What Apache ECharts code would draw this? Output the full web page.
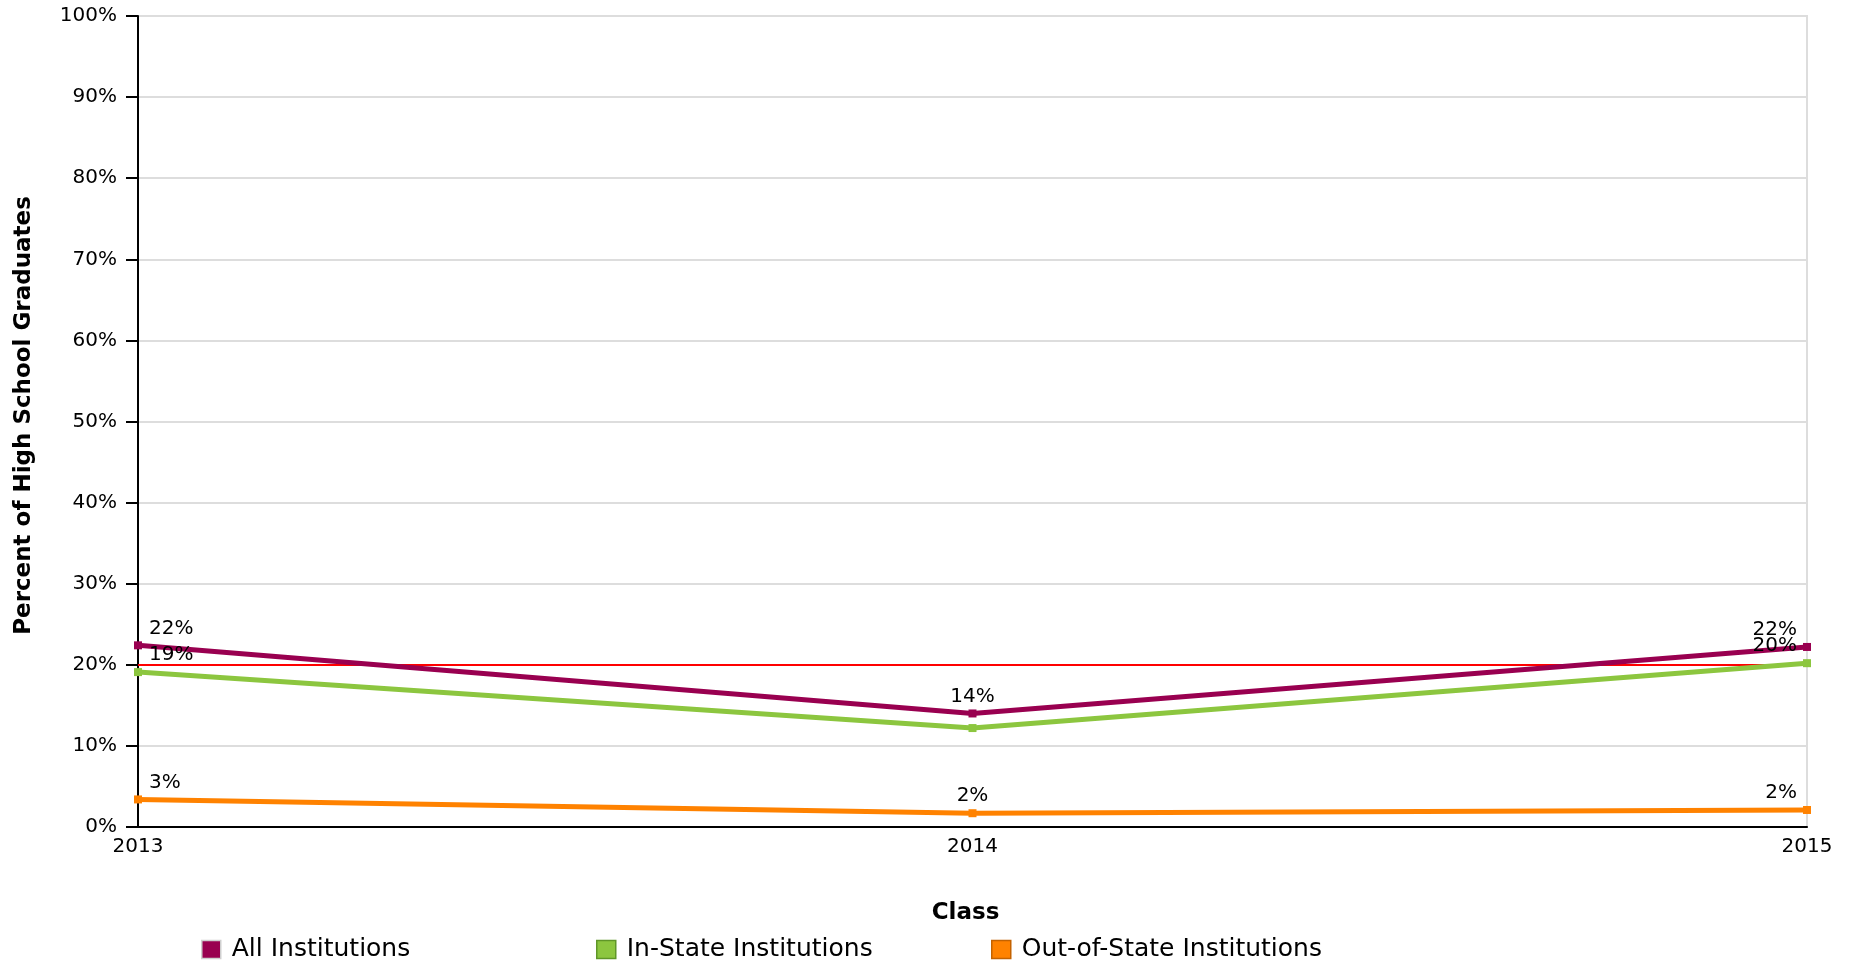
<!DOCTYPE html>
<html>
<head>
<meta charset="utf-8">
<script src="https://cdn.jsdelivr.net/npm/echarts@6/dist/echarts.min.js"></script>
<style>
html,body{margin:0;padding:0;background:#fff;}
#chart{width:1858px;height:966px;}
</style>
</head>
<body>
<div id="chart"></div>
<script>
const categories = ['2013', '2014', '2015'];
const allInstitutions = [22.4, 14.0, 22.2];
const inStateInstitutions = [19.1, 12.2, 20.2];
const outOfStateInstitutions = [3.4, 1.7, 2.1];
const targetValue = 20;
const yMin = 0, yMax = 100, yInterval = 10;
const seriesNames = ['All Institutions', 'In-State Institutions', 'Out-of-State Institutions'];
const hiddenLabelIndex = { 'In-State Institutions': [1] };

const FONT = 'DejaVu Sans';
const colors = ['#990050', '#8cc63f', '#ff8200'];
const legendBorders = ['#cfcfcf', '#5f9628', '#c46200'];
const legendLefts = [201, 596, 991];

function buildData(name, values) {
  const last = values.length - 1;
  const hidden = hiddenLabelIndex[name] || [];
  return values.map((v, i) => ({
    value: v,
    label: {
      show: hidden.indexOf(i) < 0,
      align: i === 0 ? 'left' : (i === last ? 'right' : 'center'),
      offset: [i === 0 ? 11 : (i === last ? -10 : 0), 0]
    }
  }));
}

function makeSeries(name, values, idx) {
  const s = {
    name: name,
    type: 'line',
    data: buildData(name, values),
    symbol: 'rect',
    symbolSize: 8,
    showAllSymbol: true,
    lineStyle: { color: colors[idx], width: 5 },
    itemStyle: { color: colors[idx] },
    label: {
      show: true,
      position: 'top',
      distance: 3,
      fontFamily: FONT,
      fontSize: 20,
      color: '#000',
      formatter: p => Math.round(p.value) + '%'
    },
    emphasis: { disabled: true },
    z: 3 + idx
  };
  if (idx === 0) {
    s.markLine = {
      silent: true,
      symbol: 'none',
      label: { show: false },
      lineStyle: { color: '#ff0000', width: 2, type: 'solid' },
      data: [{ yAxis: targetValue }],
      z: 2
    };
  }
  return s;
}

const chart = echarts.init(document.getElementById('chart'), null, { renderer: 'canvas' });
chart.setOption({
  animation: false,
  backgroundColor: '#fff',
  grid: {
    left: 138, right: 51, top: 16, bottom: 139,
    show: true, borderColor: '#dddddd', borderWidth: 2, backgroundColor: 'transparent'
  },
  legend: seriesNames.map((n, i) => ({
    data: [{ name: n, itemStyle: { borderColor: legendBorders[i], borderWidth: 1.5 } }],
    left: legendLefts[i],
    top: 937,
    padding: 0,
    itemWidth: 19,
    itemHeight: 18,
    icon: 'rect',
    selectedMode: false,
    textStyle: { fontFamily: FONT, fontSize: 25, color: '#000', padding: [0, 0, 0, 6] }
  })),
  xAxis: {
    type: 'category',
    data: categories,
    boundaryGap: false,
    name: 'Class',
    nameLocation: 'middle',
    nameGap: 75,
    nameTextStyle: { fontFamily: FONT, fontSize: 23, fontWeight: 'bold', color: '#000', padding: [0, 14, 0, 0] },
    axisLine: { lineStyle: { color: '#000', width: 2 } },
    axisTick: { show: false },
    axisLabel: { fontFamily: FONT, fontSize: 20, color: '#000', margin: 10 },
    splitLine: { show: false }
  },
  yAxis: {
    type: 'value',
    min: yMin, max: yMax, interval: yInterval,
    name: 'Percent of High School Graduates',
    nameLocation: 'middle',
    nameGap: 102,
    nameTextStyle: { fontFamily: FONT, fontSize: 23, fontWeight: 'bold', color: '#000', padding: [0, 0, 0, 12] },
    axisLine: { show: true, lineStyle: { color: '#000', width: 2 } },
    axisTick: { show: true, length: 12, lineStyle: { color: '#000', width: 2 } },
    axisLabel: { fontFamily: FONT, fontSize: 20, color: '#000', margin: 21, formatter: v => v + '%' },
    splitLine: { show: true, lineStyle: { color: '#dddddd', width: 2 } }
  },
  series: [
    makeSeries(seriesNames[0], allInstitutions, 0),
    makeSeries(seriesNames[1], inStateInstitutions, 1),
    makeSeries(seriesNames[2], outOfStateInstitutions, 2)
  ]
});
</script>
</body>
</html>
